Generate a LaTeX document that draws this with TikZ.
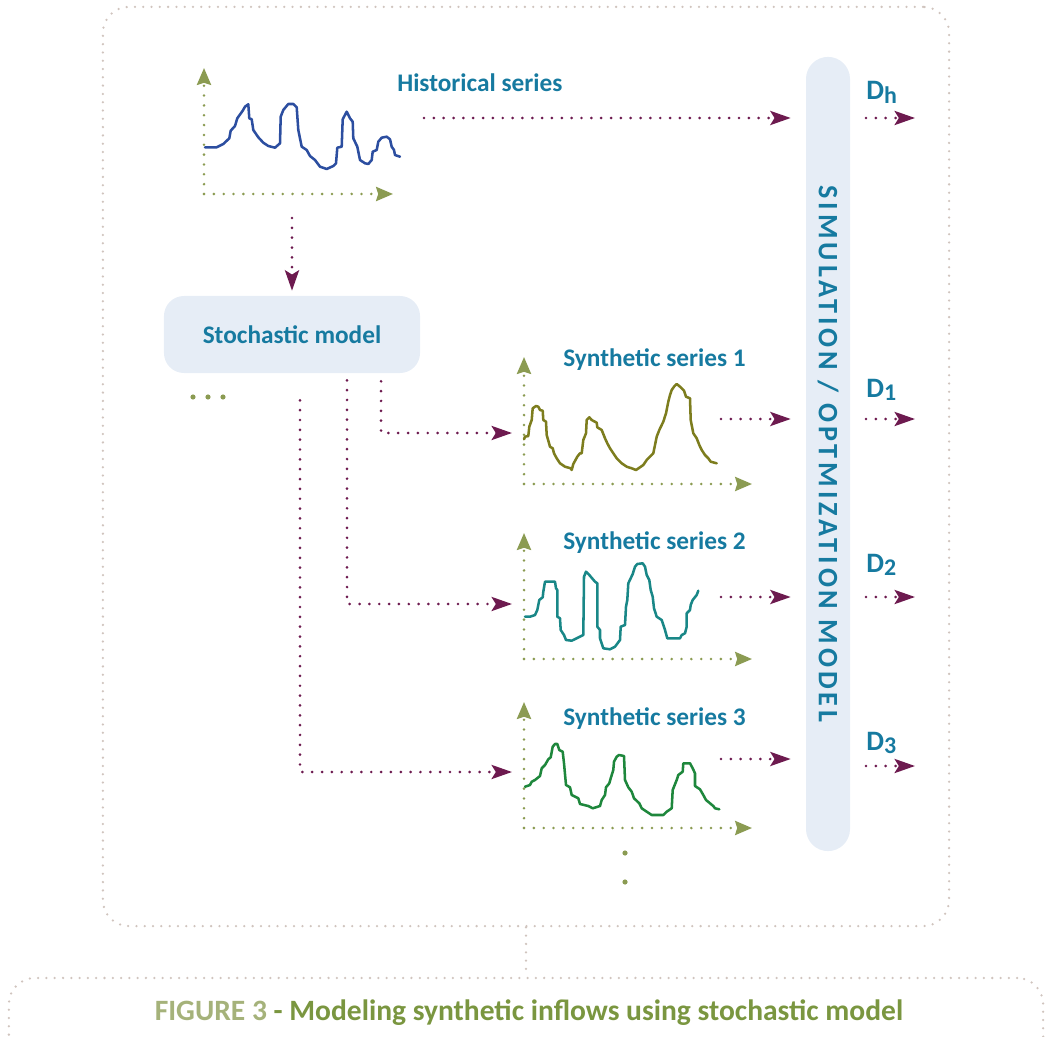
\documentclass[tikz,border=0pt]{standalone}
\usepackage{fontspec}
\setmainfont{Carlito}
\usepackage{xcolor}
\usetikzlibrary{arrows.meta,positioning}

\definecolor{plum}{RGB}{109,26,79}
\definecolor{axisgreen}{RGB}{139,155,82}
\definecolor{textblue}{RGB}{22,122,160}
\definecolor{boxfill}{RGB}{230,237,246}
\definecolor{framegray}{RGB}{208,196,190}
\definecolor{histblue}{RGB}{44,78,160}
\definecolor{synolive}{RGB}{125,125,30}
\definecolor{synteal}{RGB}{25,135,135}
\definecolor{syngreen}{RGB}{30,135,60}
\definecolor{capLight}{RGB}{165,178,122}
\definecolor{capDark}{RGB}{122,150,64}

\newcommand{\dsub}[1]{\raisebox{-2.8pt}{\fontsize{17pt}{17pt}\selectfont #1}}

\begin{document}
\begin{tikzpicture}[
  x=0.025cm, y=-0.025cm,
  lbl/.style={font=\fontsize{18pt}{20pt}\selectfont\bfseries, text=textblue, inner sep=0pt},
  dlbl/.style={font=\fontsize{20pt}{22pt}\selectfont\bfseries, text=textblue, inner sep=0pt},
  panelbox/.style={draw=framegray, line width=1.8pt, line cap=round, dash pattern=on 0pt off 5.9pt, rounded corners=0.65cm},
  modelbox/.style={fill=boxfill, rounded corners=0.5cm, align=center},
  flow/.style={draw=plum, line width=2.1pt, line cap=round, dash pattern=on 0pt off 7pt, -{Stealth[length=14.5pt, width=10pt, inset=3pt]}},
  axis/.style={draw=axisgreen, line width=2pt, line cap=round, dash pattern=on 0pt off 7pt, -{Stealth[length=12pt, width=10pt, inset=1.5pt]}},
  series/.style={line width=1.8pt, line join=round, line cap=round}
]
\useasboundingbox (0,0) rectangle (1046,1037);

% frames
\node[panelbox, minimum width=21.15cm, minimum height=22.975cm] (panel) at (526,466.5) {};
\node[panelbox, minimum width=25.85cm, minimum height=3cm] (capbox) at (526,1038) {};
\draw[panelbox] (panel.south) -- (capbox.north);

% historical series
\coordinate (h0) at (204,194);
\draw[axis] (h0) -- ++(0,-126);
\draw[axis] (h0) -- ++(189,0);
\draw[series, histblue] plot coordinates {(205,147.3) (216.7,147.3) (223.3,144) (229.3,138.3) (230.7,130.7) (235,126) (237.3,118.3) (242.7,110.7) (245,106.7) (248.3,104.3) (249.3,118.3) (251.7,119.3) (253.3,130) (258.3,137.3) (263.3,142.7) (268.3,146) (275,147.7) (280,143.3) (280.7,116.7) (283.3,110) (288.3,104) (293.3,104) (296.7,107.3) (298.3,130) (301.7,146.7) (306.7,150) (310,156) (315,160) (320,166.7) (326.7,169) (333.3,166) (336,163.3) (337.3,147.7) (341.7,146.7) (342.7,119.3) (346.7,111.7) (350,118.3) (352.7,121.7) (353.3,138.3) (357.3,146.7) (360,160) (365,163.3) (368.3,164) (371.7,160) (372.7,151.7) (376.7,150) (378.3,141.7) (381.7,137.7) (386.7,136.7) (390,139.3) (391.7,146.7) (394,150) (395,155) (400,156.7)};
\node[lbl, anchor=base west] (histlbl) at (397,92) {Historical series};

% synthetic series 1
\coordinate (s1) at (524,484);
\draw[axis] (s1) -- ++(0,-127);
\draw[axis] (s1) -- ++(228,0);
\draw[series, synolive] plot coordinates {(524,439.3) (525,436.7) (528.3,436) (529.3,426.7) (531.7,420) (532.7,408.3) (536,406) (538.3,406.7) (540,410) (542.7,410.7) (543.3,420) (546,421.7) (546.7,435) (550,446.7) (552.7,448.3) (554,453.3) (556.7,458.3) (560,463.3) (565,466.7) (570.7,468.3) (571.7,470) (573.3,464) (577.3,456.7) (580,453.3) (581.7,453.3) (583.3,440) (586,433.3) (586.7,420) (589.3,417.3) (591.7,420) (596.7,422.7) (597.3,427.3) (601.7,430) (605,438.3) (607.3,443.3) (610,448.3) (613.3,453.3) (616.7,458.3) (621.7,463.3) (626.7,466.7) (631.7,468.3) (636,470) (640,467.3) (643.3,465) (646.7,460) (650,456.7) (653.3,453.3) (655,445) (656.7,436.7) (659.3,430) (661.7,425) (663.3,421.7) (666,413.3) (668.3,401.7) (670,395) (671.7,390) (674,386.7) (676.7,384) (680,386.7) (684,390.7) (686,396.7) (690,398.3) (690.7,420) (693.3,433.3) (696.7,438.3) (699.3,445) (701.7,450) (705,455) (708.3,458.3) (710.7,461.7) (716.7,463.3)};
\node[lbl, anchor=base west] (syn1lbl) at (563,366) {Synthetic series 1};

% synthetic series 2
\coordinate (s2) at (524,659);
\draw[axis] (s2) -- ++(0,-126);
\draw[axis] (s2) -- ++(228,0);
\draw[series, synteal] plot coordinates {(525,616.7) (530,616.7) (535,615) (537.3,610) (539.3,600) (542.7,597.3) (543.3,591.7) (545,581.7) (555,581.7) (556,588.3) (557.3,590) (557.3,616.7) (560,618.3) (560.7,630) (564,635) (566,640) (571.7,640.7) (576.7,638.3) (583.3,635) (584,576.7) (586,571.7) (589.3,575) (595,581.7) (597.3,583.3) (597.3,626.7) (600,630) (600,638.3) (603.3,648.3) (610,649.3) (615,646.7) (620,640) (620.7,626.7) (625,625) (626,606.7) (627.3,600) (628.3,583.3) (630.7,578.3) (632.7,574) (635,566.7) (637.3,564) (642.7,563.3) (645,566.7) (646.7,575) (649.3,580) (650.7,590) (652.7,596.7) (654,608.3) (656.7,616.7) (661.7,620) (665,630) (667.3,638.3) (680,638.3) (681.7,635) (685,633.3) (686.7,626.7) (686.7,613.3) (690,610) (690.7,605) (692.7,600) (696.7,595) (698.3,590.7)};
\node[lbl, anchor=base west] (syn2lbl) at (563,549) {Synthetic series 2};

% synthetic series 3
\coordinate (s3) at (524,828);
\draw[axis] (s3) -- ++(0,-126);
\draw[axis] (s3) -- ++(228,0);
\draw[series, syngreen] plot coordinates {(525,786.7) (530,785) (531.7,781.7) (535,780) (540,776) (541.7,768.3) (545,765) (548.3,759.3) (550.7,757.3) (552.7,746.7) (555,744) (557.3,744) (559.3,750) (562.7,751.7) (564,763.3) (566,785) (570,787.3) (571.7,795) (578.3,798.3) (580,804) (588.3,806) (592.7,808.3) (600,806) (601.7,800) (605,795) (606,787.3) (609.3,783.3) (610.7,778.3) (613.3,770) (614,761.7) (616.7,756.7) (619,755) (624,756) (625,780) (628.3,787.3) (631.7,791.7) (634,798.3) (639.3,803.3) (641.7,808.3) (646.7,811.7) (651.7,815) (663.3,815) (666.7,811.7) (671.7,808.3) (672.7,790) (676.7,780) (678.3,775) (682.7,771.7) (683.3,763.3) (690,763.3) (692.7,768.3) (695,773.3) (695,786) (700,789.3) (703.3,795) (706,800) (710,803.3) (713.3,806) (715,808.3) (719.3,809.3)};
\node[lbl, anchor=base west] (syn3lbl) at (563,725) {Synthetic series 3};

% more series
\fill[axisgreen] (625,853) circle (2.6);
\fill[axisgreen] (625,882) circle (2.6);
\fill[axisgreen] (193,397) circle (2.6);
\fill[axisgreen] (208,397) circle (2.6);
\fill[axisgreen] (223,397) circle (2.6);

% model boxes
\node[modelbox, lbl, minimum width=6.4cm, minimum height=1.925cm] (stoch) at (292,334.5) {Stochastic model};
\node[modelbox, minimum width=1.1cm, minimum height=19.85cm, rounded corners=0.55cm] (sim) at (828,454) {};
\node[rotate=-90, font=\fontsize{20pt}{20pt}\selectfont\bfseries\addfontfeature{LetterSpace=14}, text=textblue, inner sep=0pt] (simlbl) at (sim.center) {SIMULATION / OPTMIZATION MODEL};

% decision outputs
\node[dlbl, anchor=base west] (dh) at (866,100) {D\dsub{h}};
\node[dlbl, anchor=base west] (d1) at (866,397) {D\dsub{1}};
\node[dlbl, anchor=base west] (d2) at (866,572) {D\dsub{2}};
\node[dlbl, anchor=base west] (d3) at (866,750) {D\dsub{3}};

% connectors
\coordinate (hout) at (424,118);
\coordinate (hdown) at (292,218);
\coordinate (s1in) at (512,433);
\coordinate (s2in) at (512,604);
\coordinate (s3in) at (512,772);
\coordinate (s1out) at (721,419);
\coordinate (s2out) at (721,597);
\coordinate (s3out) at (721,759);
\draw[flow, shorten >=0.375cm] (hout) -- (sim.west |- hout);
\draw[flow, shorten >=0.125cm] (hdown) -- (stoch.north);
\draw[flow] ([xshift=2.225cm, yshift=-0.2cm]stoch.south) |- (s1in);
\draw[flow] ([xshift=1.375cm, yshift=-0.175cm]stoch.south) |- (s2in);
\draw[flow] ([xshift=0.2cm, yshift=-0.675cm]stoch.south) |- (s3in);
\draw[flow, shorten >=0.375cm] (s1out) -- (sim.west |- s1out);
\draw[flow, shorten >=0.375cm] (s2out) -- (sim.west |- s2out);
\draw[flow, shorten >=0.375cm] (s3out) -- (sim.west |- s3out);
\draw[flow] ([yshift=-0.45cm]dh.base west) -- ++(49,0);
\draw[flow] ([yshift=-0.55cm]d1.base west) -- ++(49,0);
\draw[flow] ([yshift=-0.625cm]d2.base west) -- ++(49,0);
\draw[flow] ([yshift=-0.4cm]d3.base west) -- ++(49,0);

% caption
\node[anchor=base, font=\fontsize{21pt}{23pt}\selectfont\bfseries] (caption) at (529,1020) {\textcolor{capLight}{FIGURE 3} \textcolor{capDark}{- Modeling synthetic inflows using stochastic model}};
\end{tikzpicture}
\end{document}
